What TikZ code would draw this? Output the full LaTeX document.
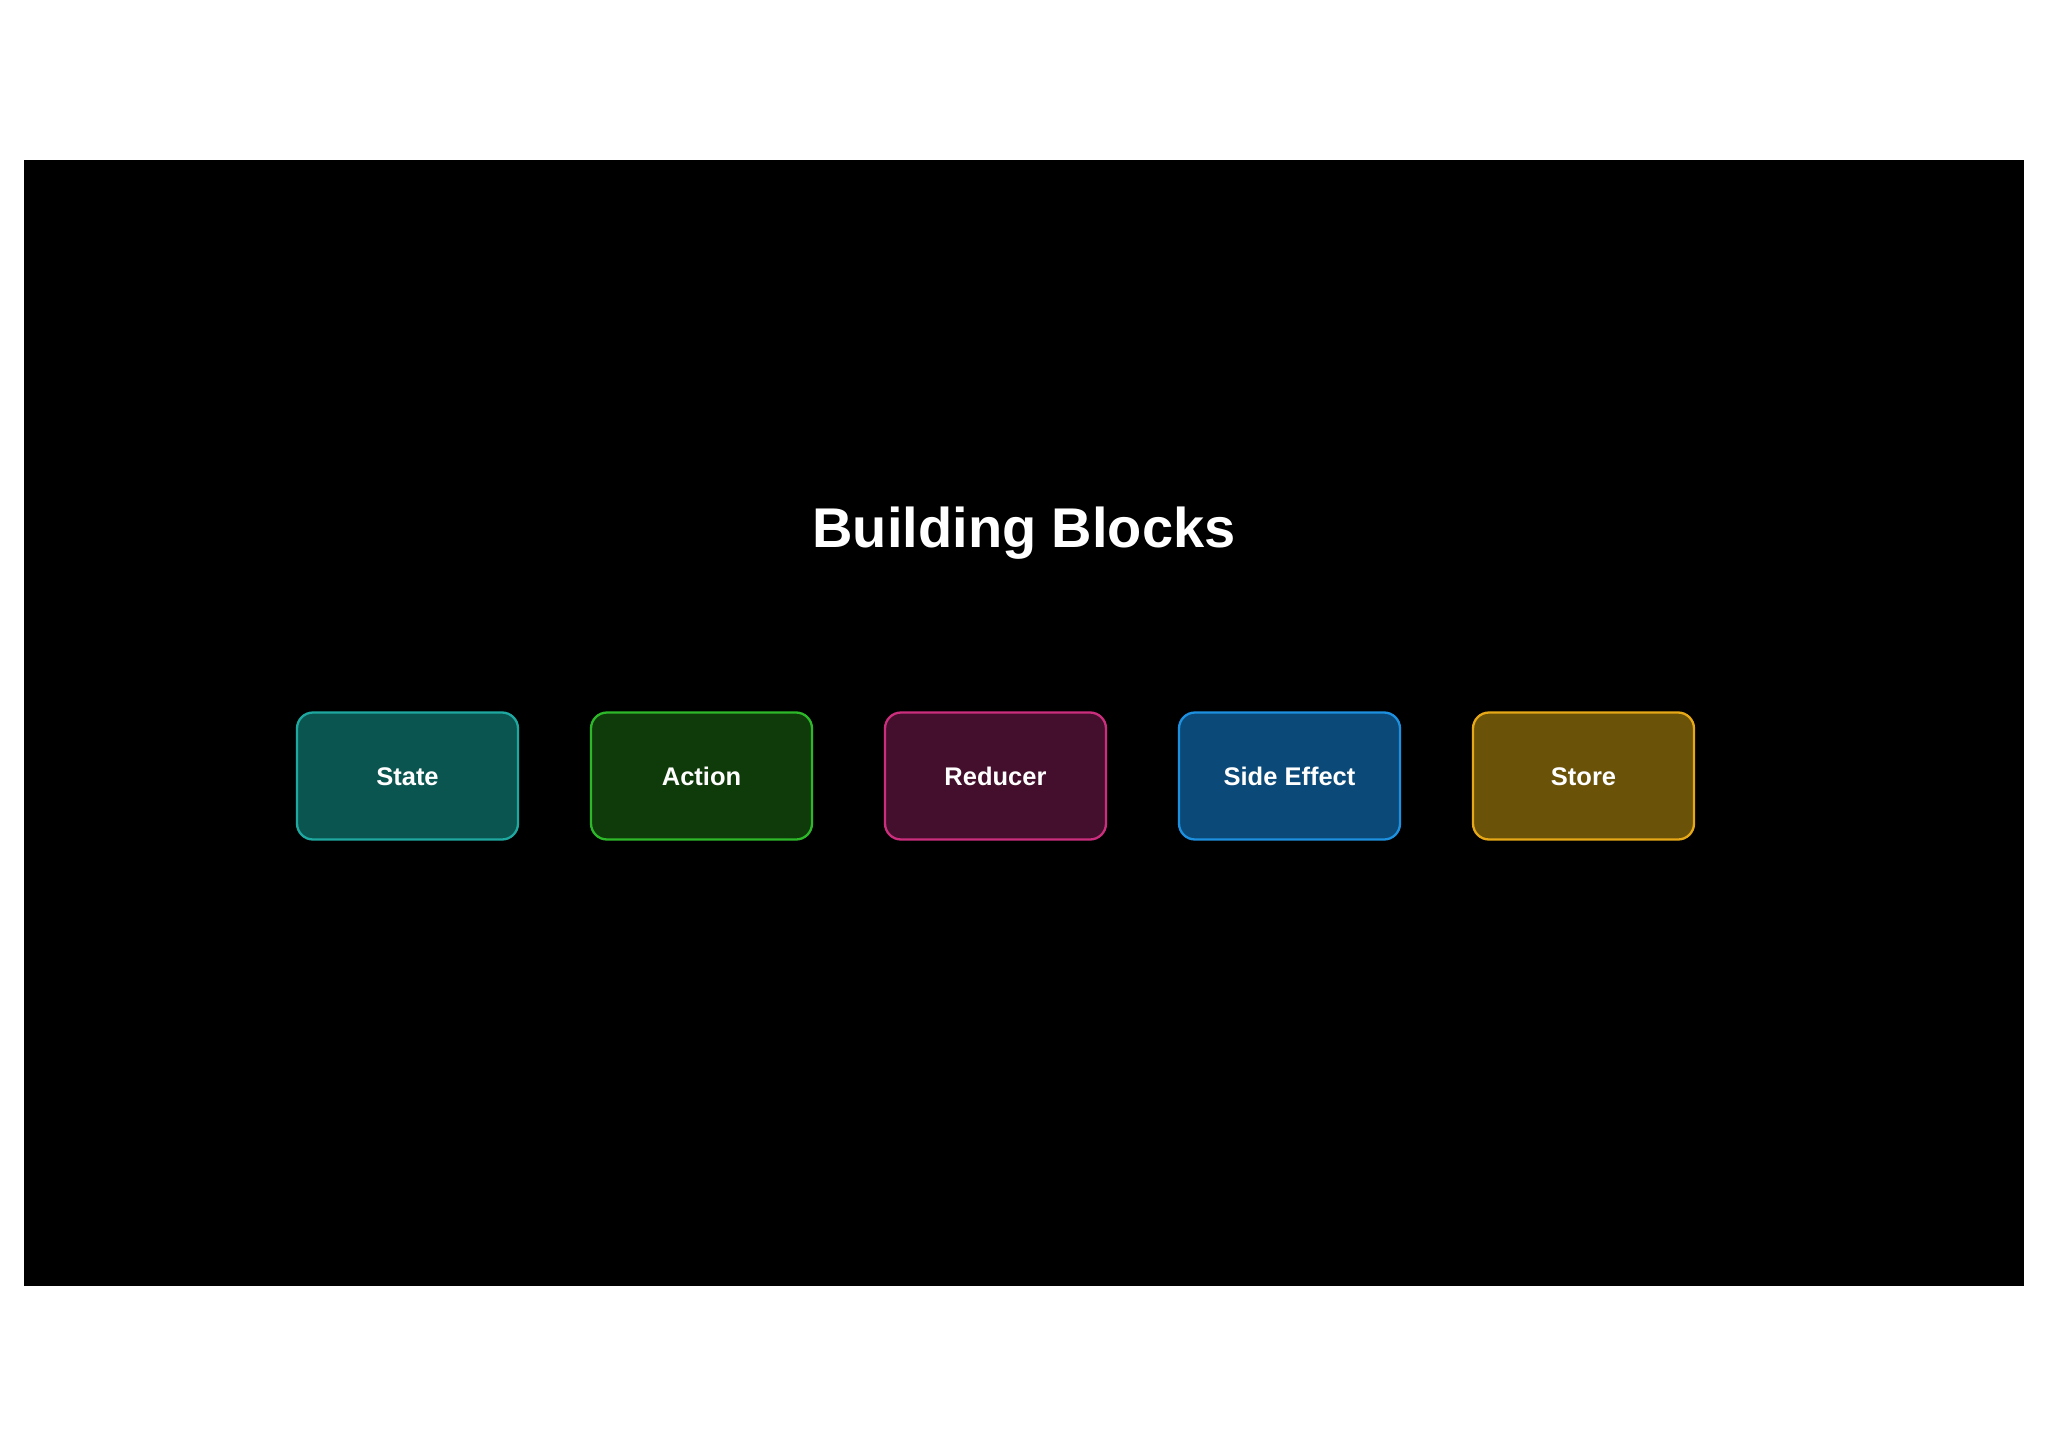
\documentclass[tikz,border=0pt]{standalone}
\usepackage{fontspec}
\setmainfont{Liberation Sans}
\definecolor{stfill}{HTML}{0B5550}
\definecolor{stdraw}{HTML}{1EA8A0}
\definecolor{acfill}{HTML}{0F3A0A}
\definecolor{acdraw}{HTML}{2DB82A}
\definecolor{rdfill}{HTML}{440F2C}
\definecolor{rddraw}{HTML}{CC2E7E}
\definecolor{sefill}{HTML}{0B4A78}
\definecolor{sedraw}{HTML}{1E90E0}
\definecolor{sofill}{HTML}{6A5208}
\definecolor{sodraw}{HTML}{E6A817}
\begin{document}
\begin{tikzpicture}[x=1pt,y=-1pt,
  block/.style={rectangle, rounded corners=16pt, line width=2.3pt,
    minimum width=221pt, minimum height=127pt, inner sep=0pt,
    text height=18.3pt, text depth=0pt,
    text=white, font=\fontsize{25.5}{30}\selectfont\bfseries}]
\useasboundingbox (0,0) rectangle (2048,1447);
\fill[white] (0,0) rectangle (2048,1447);
\fill[black] (23.7,160.5) rectangle (2024,1285.5);
\node[text=white, font=\fontsize{56}{64}\selectfont\bfseries, anchor=base] (title) at (1024,547) {Building Blocks};
\node[block, fill=stfill, draw=stdraw] (state) at (407.5,776) {State};
\node[block, fill=acfill, draw=acdraw] (action) at (701.5,776) {Action};
\node[block, fill=rdfill, draw=rddraw] (reducer) at (995.5,776) {Reducer};
\node[block, fill=sefill, draw=sedraw] (sideeffect) at (1289.5,776) {Side Effect};
\node[block, fill=sofill, draw=sodraw] (store) at (1583.5,776) {Store};
\end{tikzpicture}
\end{document}
